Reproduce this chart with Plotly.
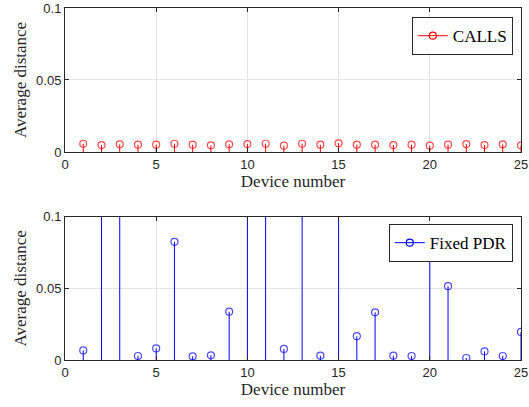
import plotly.graph_objects as go

devices = list(range(1, 26))
calls = [0.0057, 0.0048, 0.0053, 0.0051, 0.0051, 0.0057, 0.0051, 0.0046, 0.0053, 0.0055,
         0.0057, 0.0044, 0.0057, 0.0051, 0.0060, 0.0051, 0.0051, 0.0048, 0.0051, 0.0044,
         0.0051, 0.0055, 0.0048, 0.0053, 0.0046]
fixed_pdr = [0.0067, 0.35, 0.22, 0.0028, 0.0081, 0.0825, 0.0026, 0.0033, 0.0337, 0.50,
             0.18, 0.0077, 0.29, 0.0030, 0.41, 0.0166, 0.0333, 0.0030, 0.0028, 0.0768,
             0.0515, 0.0014, 0.0060, 0.0028, 0.0196]
x_ticks = [0, 5, 10, 15, 20, 25]
y_ticks = [0, 0.05, 0.1]
y_tick_text = ["0", "0.05", "0.1"]


def stem_arrays(xs, ys, msize):
    sx, sy, ss = [], [], []
    for xv, yv in zip(xs, ys):
        sx += [xv, xv, None]
        sy += [0, yv, None]
        ss += [0, msize, 0]
    return sx, sy, ss


serif = "Liberation Serif"
fig = go.Figure()
for data, name, color, xa, ya, lg in [
    (calls, "CALLS", "#ff0000", "x", "y", "legend"),
    (fixed_pdr, "Fixed PDR", "#0000ff", "x2", "y2", "legend2"),
]:
    sx, sy, ss = stem_arrays(devices, data, 7)
    fig.add_trace(go.Scatter(
        x=sx, y=sy, mode="lines+markers", name=name, showlegend=False,
        line=dict(color=color, width=1),
        marker=dict(symbol="circle-open", size=ss, color=color, line=dict(width=1.2, color=color)),
        xaxis=xa, yaxis=ya, connectgaps=False,
    ))
    fig.add_trace(go.Scatter(
        x=[None], y=[None], mode="lines+markers", name=name, showlegend=True,
        line=dict(color=color, width=1),
        marker=dict(symbol="circle-open", size=7, color=color, line=dict(width=1.2, color=color)),
        xaxis=xa, yaxis=ya, legend=lg,
    ))

axis_col = "#262626"
tick_font = dict(family="Liberation Sans", size=13, color=axis_col)
label_font = dict(family=serif, size=17, color=axis_col)

common_x = dict(range=[0, 25], tickvals=x_ticks, showline=True, linecolor=axis_col, linewidth=1,
                mirror="ticks", ticks="inside", ticklen=4, tickcolor=axis_col, showgrid=True,
                gridcolor="#e3e3e3", gridwidth=1, zeroline=False, tickfont=tick_font,
                automargin=False,
                title=dict(text="Device number", font=label_font, standoff=3))
common_y = dict(range=[0, 0.1], tickvals=y_ticks, ticktext=y_tick_text, showline=True,
                linecolor=axis_col, linewidth=1, mirror="ticks", ticks="inside", ticklen=4,
                tickcolor=axis_col, showgrid=True, gridcolor="#e3e3e3", gridwidth=1,
                zeroline=False, tickfont=tick_font, automargin=False,
                title=dict(text="Average distance", font=label_font, standoff=5))

legend_font = dict(family=serif, size=17, color="#000000")
fig.update_layout(
    width=529, height=407,
    margin=dict(l=65, r=8, t=8, b=47),
    paper_bgcolor="white", plot_bgcolor="white",
    xaxis=dict(domain=[0, 1], anchor="y", **common_x),
    yaxis=dict(domain=[0.591, 1.0], anchor="x", **common_y),
    xaxis2=dict(domain=[0, 1], anchor="y2", **common_x),
    yaxis2=dict(domain=[0, 0.407], anchor="x2", **common_y),
    legend=dict(x=0.982, y=0.974, xanchor="right", yanchor="top", bgcolor="white",
                bordercolor=axis_col, borderwidth=1, font=legend_font,
                itemwidth=30, tracegroupgap=0),
    legend2=dict(x=0.982, y=0.386, xanchor="right", yanchor="top", bgcolor="white",
                 bordercolor=axis_col, borderwidth=1, font=legend_font,
                 itemwidth=30, tracegroupgap=0),
    showlegend=True,
)

fig.write_html("out.html")
